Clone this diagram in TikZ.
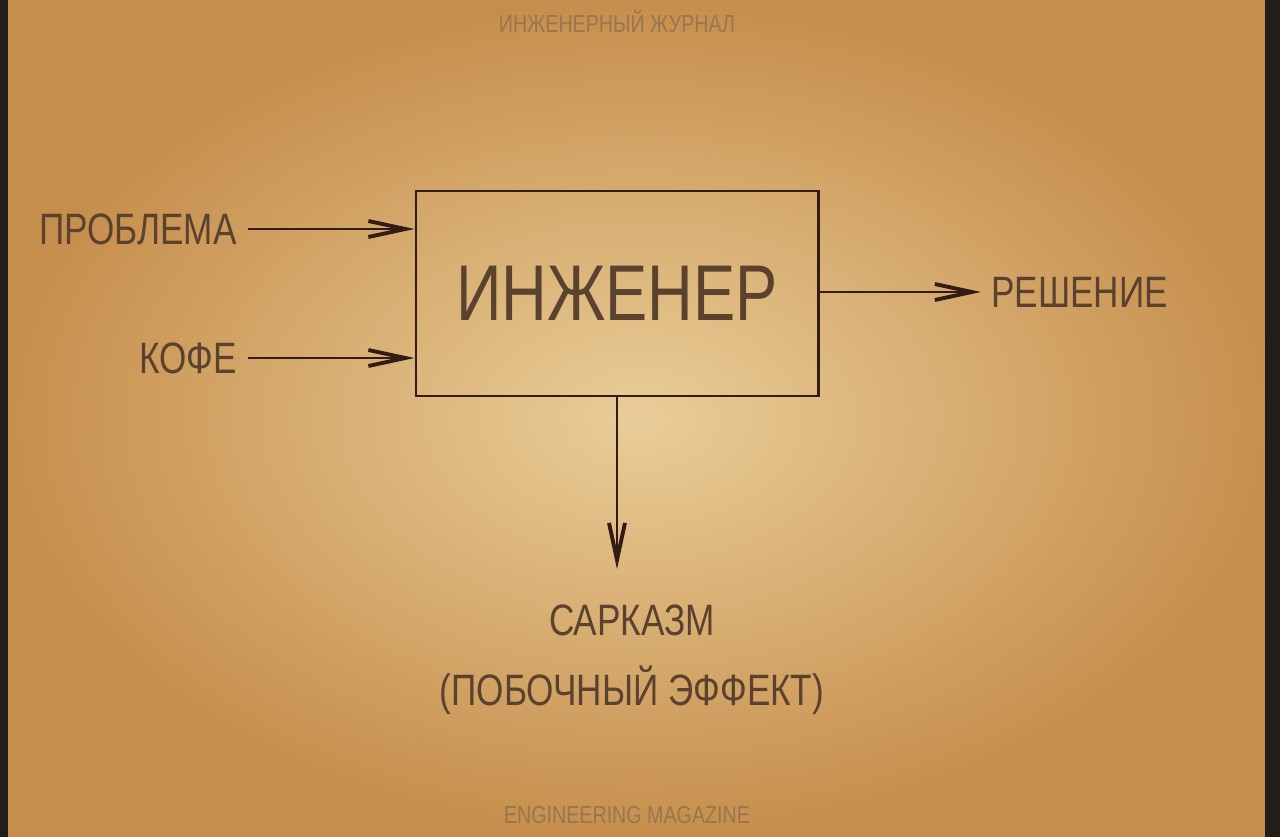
\documentclass[tikz,border=0pt]{standalone}
\usepackage{fontspec}
\setmainfont[FakeStretch=0.8]{Liberation Sans}
\usetikzlibrary{arrows.meta,shadings}
\definecolor{paper}{RGB}{233,205,152}
\definecolor{paperedge}{RGB}{198,142,76}
\definecolor{ink}{RGB}{52,28,22}
\definecolor{lettering}{RGB}{90,66,46}
\definecolor{faded}{RGB}{152,118,80}
\definecolor{rim}{RGB}{34,28,26}
\tikzset{
  >={Straight Barb[length=7.4mm,width=3.2mm,line width=2.2pt]},
  label/.style={text=lettering, inner sep=0pt, font=\fontsize{25}{30}\selectfont},
  caption/.style={text=faded, inner sep=0pt, font=\fontsize{14}{16}\selectfont},
  box/.style={draw=ink, line width=1.7pt, minimum width=80.4mm, minimum height=41mm, text=lettering, font=\fontsize{45}{54}\selectfont},
  flow/.style={->, draw=ink, line width=1.7pt}
}
\begin{document}
\begin{tikzpicture}[x=0.2mm, y=-0.2mm]
    % paper
    \shade [inner color=paper, outer color=paperedge, shading=radial] (0,0) rectangle (1280,837);
    \fill [rim] (0,0) rectangle (8,837);
    \fill [rim] (1265,0) rectangle (1280,837);
    \useasboundingbox (0,0) rectangle (1280,837);

    \node [caption] (title) at (617,22) {ИНЖЕНЕРНЫЙ ЖУРНАЛ};
    \node [caption] (subtitle) at (627,815) {ENGINEERING MAGAZINE};

    \node [box] (engineer) at (617,293.5) {ИНЖЕНЕР};
    \node [label, anchor=east] (problem) at (237,229) {ПРОБЛЕМА};
    \node [label, anchor=east] (coffee) at (237,358) {КОФЕ};
    \node [label, anchor=west] (solution) at (991,292) {РЕШЕНИЕ};
    \node [label] (sarcasm) at (632,620) {САРКАЗМ};
    \node [label] (effect) at (632,690) {(ПОБОЧНЫЙ ЭФФЕКТ)};

    \draw [flow] ([xshift=2.2mm]problem.east) -- (problem.east -| engineer.west);
    \draw [flow] ([xshift=2.2mm]coffee.east) -- (coffee.east -| engineer.west);
    \draw [flow] (solution.west -| engineer.east) -- ([xshift=-2mm]solution.west);
    \draw [flow] (engineer.south) -- ([yshift=7mm]sarcasm.north -| engineer.south);
  \end{tikzpicture}
\end{document}
